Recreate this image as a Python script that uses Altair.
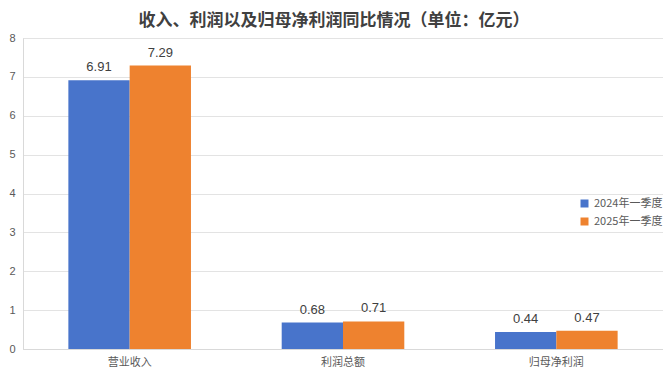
import altair as alt
import pandas as pd

categories = ["营业收入", "利润总额", "归母净利润"]
series = ["2024年一季度", "2025年一季度"]
values_2024 = [6.91, 0.68, 0.44]
values_2025 = [7.29, 0.71, 0.47]
colors = ["#4874CB", "#EE822F"]

rows = []
for c, a, b in zip(categories, values_2024, values_2025):
    rows.append({"类别": c, "期间": series[0], "值": a, "标签": f"{a:.2f}"})
    rows.append({"类别": c, "期间": series[1], "值": b, "标签": f"{b:.2f}"})
df = pd.DataFrame(rows)

FONT = "Noto Sans CJK SC"
NUMFONT = "Liberation Sans"

x = alt.X("类别:N", sort=categories, title=None,
          scale=alt.Scale(paddingInner=0, paddingOuter=0),
          axis=alt.Axis(labelAngle=0, labelFontSize=11, labelColor="#595959",
                        labelFont=FONT, ticks=False, domainColor="#d9d9d9",
                        labelPadding=7))
xoff = alt.XOffset("期间:N", sort=series,
                   scale=alt.Scale(paddingInner=0, paddingOuter=0.74))
y = alt.Y("值:Q", title=None,
          scale=alt.Scale(domain=[0, 8], nice=False),
          axis=alt.Axis(values=list(range(0, 9)), labelFontSize=11, labelColor="#595959",
                        labelFont=NUMFONT, ticks=False, domain=True, domainColor="#d9d9d9",
                        gridColor="#e3e3e3", labelPadding=8))

color = alt.Color("期间:N", sort=series,
                  scale=alt.Scale(domain=series, range=colors),
                  legend=alt.Legend(title=None, orient="none", legendX=556, legendY=160,
                                    symbolType="square", symbolSize=64,
                                    symbolStrokeWidth=0,
                                    labelFontSize=11, labelColor="#595959",
                                    labelFont=FONT, rowPadding=6, labelOffset=4))

bars = alt.Chart(df).mark_bar().encode(x=x, xOffset=xoff, y=y, color=color)
text = alt.Chart(df).mark_text(baseline="bottom", dy=-6, fontSize=13,
                               color="#404040", font=NUMFONT).encode(
    x=x, xOffset=xoff, y=y, text="标签:N")

chart = alt.layer(bars, text).properties(
    width=640, height=311,
    autosize=alt.AutoSizeParams(type="none"),
    padding={"left": 15, "top": 30, "right": 0, "bottom": 22},
    title=alt.Title("收入、利润以及归母净利润同比情况（单位：亿元）",
                    fontSize=17, fontWeight="bold", color="#404040", font=FONT,
                    anchor="middle", dx=-9, offset=2),
).configure_view(stroke=None).configure(background="white")

chart.save("out.html", embed_options={"renderer": "svg", "actions": False})
